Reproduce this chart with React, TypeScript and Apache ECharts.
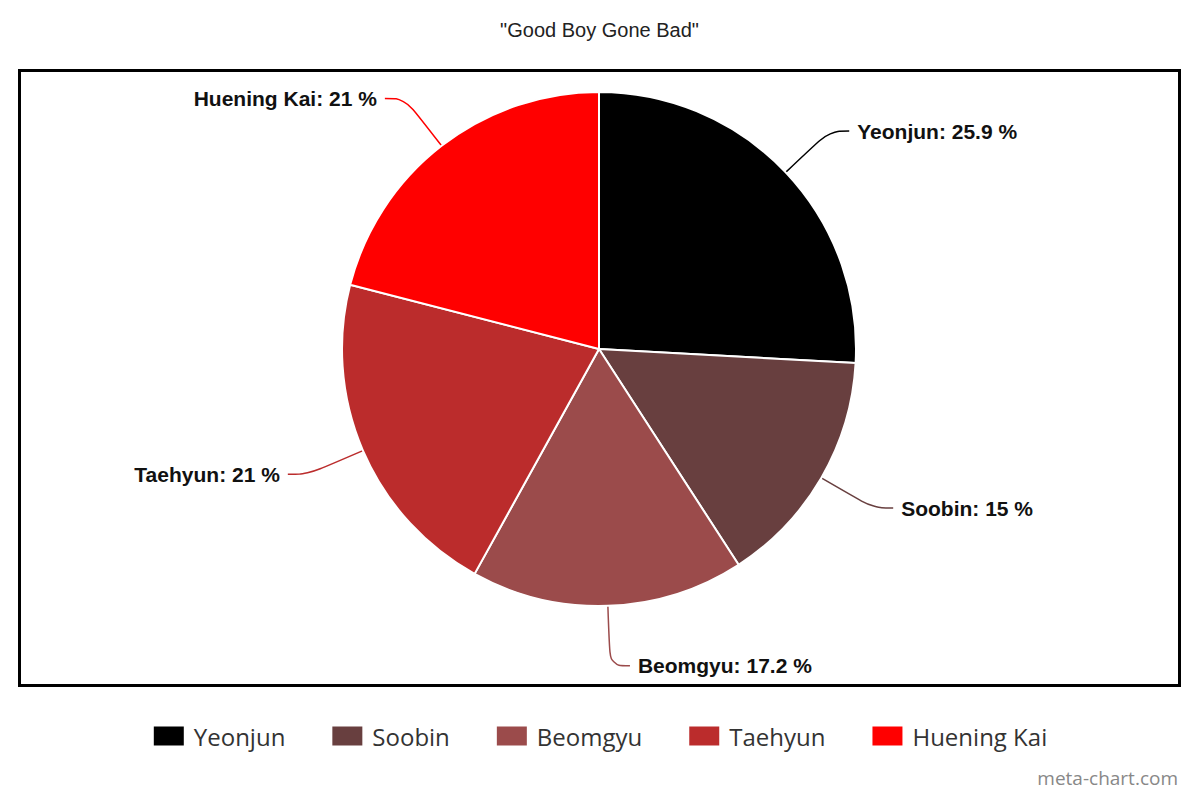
import { useEffect, useRef } from 'react';
import * as echarts from 'echarts';

const members = ['Yeonjun', 'Soobin', 'Beomgyu', 'Taehyun', 'Huening Kai'];
const shares = [25.9, 15, 17.2, 21, 21];
const colors = ['#000000', '#683f3f', '#9b4b4b', '#bb2c2c', '#ff0000'];

export default function App() {
  const chartRef = useRef<HTMLDivElement>(null);

  useEffect(() => {
    if (!chartRef.current) {
      return;
    }
    const chart = echarts.init(chartRef.current, null, { renderer: 'svg' });

    const option = {
      animation: false,
      backgroundColor: '#ffffff',
      color: colors,
      title: {
        text: '"Good Boy Gone Bad"',
        left: 'center',
        top: 15,
        textStyle: {
          fontFamily: 'Liberation Sans, Arial',
          fontSize: 20,
          fontWeight: 'normal',
          color: '#222',
        },
      },
      legend: {
        data: members,
        top: 719,
        left: 'center',
        icon: 'rect',
        itemWidth: 32,
        itemHeight: 21,
        itemGap: 45,
        textStyle: {
          fontFamily: 'Open Sans',
          fontSize: 24,
          color: '#333',
          padding: [0, 0, 0, 4],
        },
      },
      graphic: [
        {
          type: 'rect',
          z: -1,
          shape: { x: 19.5, y: 70.5, width: 1160, height: 615 },
          style: { fill: 'none', stroke: '#000', lineWidth: 3 },
        },
        {
          type: 'text',
          right: 21,
          top: 768,
          style: {
            text: 'meta-chart.com',
            fill: '#888',
            font: '19px "Open Sans"',
          },
        },
      ],
      series: [
        {
          type: 'pie',
          center: [599, 349],
          radius: 257,
          startAngle: 90,
          clockwise: true,
          avoidLabelOverlap: false,
          data: members.map((name, i) => ({ name, value: shares[i] })),
          itemStyle: {
            borderColor: '#ffffff',
            borderWidth: 2,
          },
          label: {
            show: true,
            formatter: (p: any) => `${p.name}: ${p.value} %`,
            fontFamily: 'Liberation Sans, Arial',
            fontSize: 21,
            fontWeight: 'bold',
            color: '#111',
            distanceToLabelLine: 8,
          },
          labelLine: {
            show: true,
            length: 60,
            length2: 20,
            smooth: 0.4,
            lineStyle: { width: 1.5 },
          },
        },
      ],
    };

    chart.setOption(option);

    return () => {
      chart.dispose();
    };
  }, []);

  return (
    <div
      ref={chartRef}
      style={{ position: 'fixed', left: 0, top: 0, width: '1199px', height: '799px' }}
    />
  );
}
